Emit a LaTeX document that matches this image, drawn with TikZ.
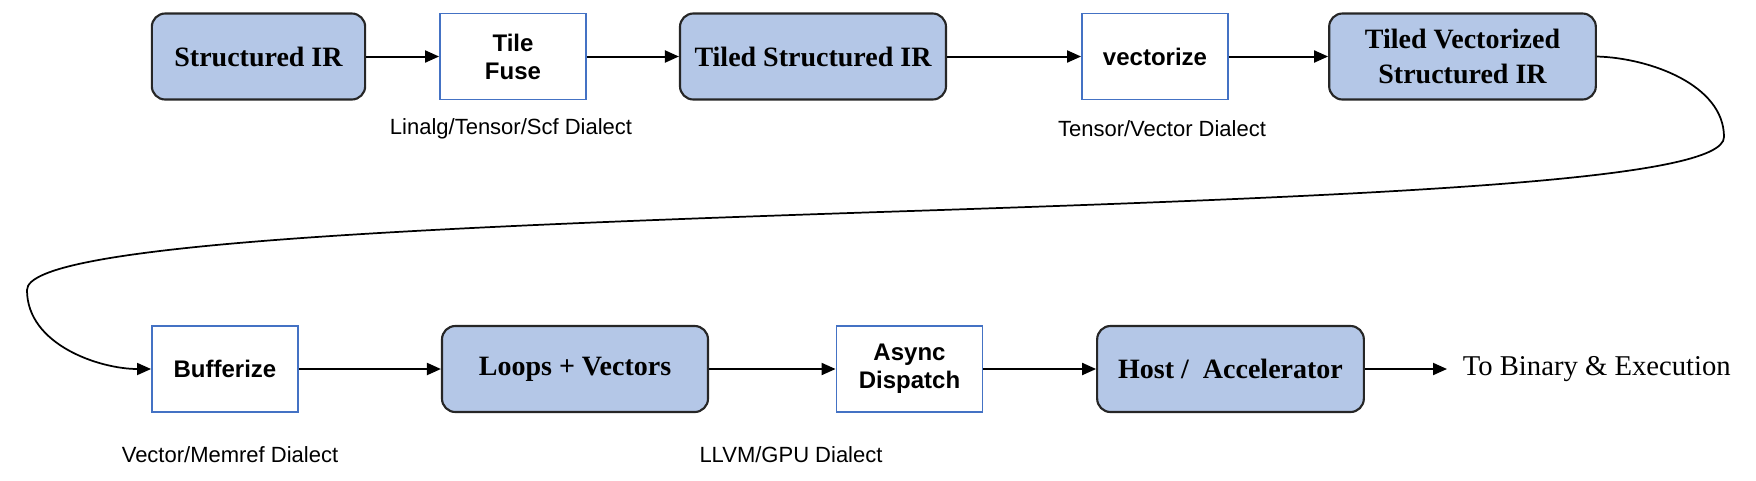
\documentclass[tikz,border=0pt]{standalone}
\usepackage{fontspec}
\setmainfont{Liberation Serif}
\setsansfont{Liberation Sans}
\usetikzlibrary{arrows.meta}

\definecolor{irfill}{RGB}{180,199,231}
\definecolor{passblue}{RGB}{68,114,196}

\tikzset{every picture/.style={line width=0.75pt}}
\tikzset{
	irbox/.style={draw=black!85, fill=irfill, line width=1.6pt, rounded corners=10pt, minimum height=64.5pt, inner sep=0.75pt, align=center, font=\fontsize{21}{26}\selectfont\bfseries},
	passbox/.style={draw=passblue, fill=white, line width=1.4pt, minimum width=109.5pt, minimum height=64.5pt, inner sep=0.75pt, align=center, font=\sffamily\bfseries\fontsize{18}{21}\selectfont},
	dialect/.style={inner sep=0.75pt, font=\sffamily\fontsize{16.5}{19}\selectfont},
	flow/.style={-{Triangle[length=10.5pt,width=9pt]}, line width=1.5pt},
}

\begin{document}
\begin{tikzpicture}[x=0.75pt,y=0.75pt,yscale=-1,xscale=1]
	\useasboundingbox (0,0) rectangle (1756,480);
	
	%Rounded Rect
	\node[irbox, minimum width=160pt] (sir) at (258.5,56.5) {Structured IR};
	%Shape: Rectangle
	\node[passbox] (tile) at (513,56.5) {Tile\\Fuse};
	%Rounded Rect
	\node[irbox, minimum width=199.5pt] (tsir) at (813,56.5) {Tiled Structured IR};
	%Shape: Rectangle
	\node[passbox] (vec) at (1155,56.5) {vectorize};
	%Rounded Rect
	\node[irbox, minimum width=200pt] (tvsir) at (1462.5,56.5) {Tiled Vectorized\\Structured IR};
	
	%Shape: Rectangle
	\node[passbox] (buf) at (225,369) {Bufferize};
	%Rounded Rect
	\node[irbox, minimum width=199.5pt] (loops) at (575,369) {Loops + Vectors};
	%Shape: Rectangle
	\node[passbox] (async) at (909.5,369) {Async\\Dispatch};
	%Rounded Rect
	\node[irbox, minimum width=200pt] (host) at (1230.5,369) {Host / \ Accelerator};
	
	% Text Node
	\node[anchor=west, inner xsep=11.5pt, inner ysep=0.75pt, font=\fontsize{21.5}{24}\selectfont] (bin) at (1447,369) {To Binary \& Execution};
	% Text Node
	\node[dialect] (lblone) at (511,129) {Linalg/Tensor/Scf Dialect};
	% Text Node
	\node[dialect] (lbltwo) at (1162,129) {Tensor/Vector Dialect};
	% Text Node
	\node[dialect] (lblthree) at (230,455) {Vector/Memref Dialect};
	% Text Node
	\node[dialect] (lblfour) at (791,455) {LLVM/GPU Dialect};
	
	% Connection
	\draw[flow] (sir) -- (tile);
	\draw[flow] (tile) -- (tsir);
	\draw[flow] (tsir) -- (vec);
	\draw[flow] (vec) -- (tvsir);
	% Curve
	\draw[flow, line width=1.3pt] (tvsir.east) .. controls (1650,58) and (1724,85) .. (1724,137) .. controls (1724,180) and (1400,195) .. (880,212) .. controls (400,228) and (27,245) .. (27,290) .. controls (27,345) and (100,369) .. (buf.west);
	% Connection
	\draw[flow] (buf) -- (loops);
	\draw[flow] (loops) -- (async);
	\draw[flow] (async) -- (host);
	\draw[flow] (host) -- (bin);
	
\end{tikzpicture}
\end{document}
